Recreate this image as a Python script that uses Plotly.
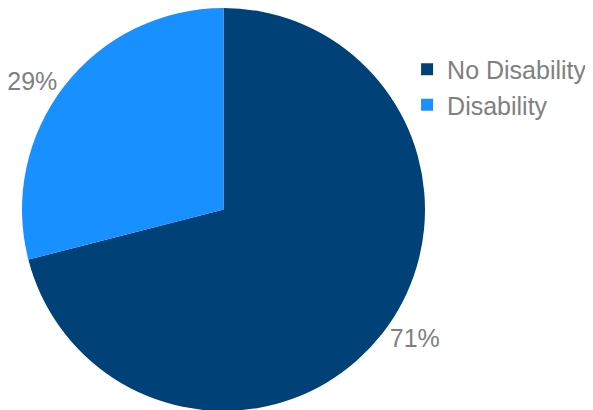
import plotly.graph_objects as go

categories = ["No Disability", "Disability"]
values = [71, 29]
colors = ["#004178", "#1990FF"]

fig = go.Figure(go.Pie(
    labels=categories,
    values=values,
    marker=dict(colors=colors, line=dict(width=0)),
    sort=False,
    direction="clockwise",
    rotation=0,
    textinfo="percent",
    textposition="outside",
    texttemplate="%{percent:.0%}",
    textfont=dict(family="Liberation Sans, Arial, sans-serif", size=25, color="#808080"),
    domain=dict(x=[13/593, 418/593], y=[7/410, 1]),
    automargin=False,
    showlegend=True,
))

fig.update_layout(
    width=593, height=410,
    margin=dict(l=0, r=0, t=0, b=0),
    paper_bgcolor="white",
    plot_bgcolor="white",
    legend=dict(
        x=0.673, y=0.906, xanchor="left", yanchor="top",
        font=dict(family="Liberation Sans, Arial, sans-serif", size=25, color="#808080"),
        bgcolor="rgba(0,0,0,0)",
    ),
)

fig.write_html("out.html")
